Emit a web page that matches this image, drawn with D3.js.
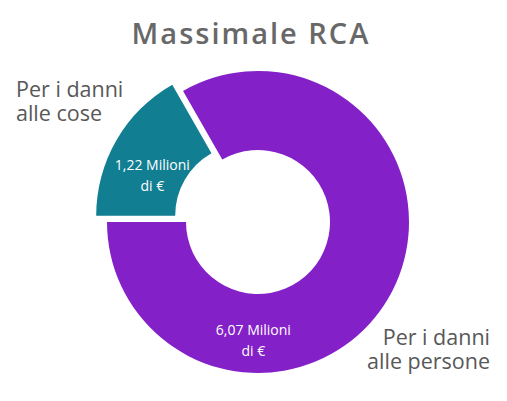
<!DOCTYPE html>
<meta charset="utf-8">
<style>
	body { margin: 0; background: #fff; }
	.title { font: 600 29px "Open Sans", sans-serif; fill: #686868; letter-spacing: 2px; text-anchor: middle; }
	.cat { font: 21.5px "Open Sans", sans-serif; fill: #585858; }
	.val { font: 14px "Open Sans", sans-serif; fill: #fff; text-anchor: middle; }
</style>
<script src="https://d3js.org/d3.v7.min.js"></script>
<svg class="chart"></svg>
<script>

	var categories = ["Per i danni alle cose", "Per i danni alle persone"];
	var catLines = [["Per i danni", "alle cose"], ["Per i danni", "alle persone"]];
	var values = [1.22, 6.07];
	var valueLabels = ["1,22 Milioni", "6,07 Milioni"];
	var colors = ["#117e92", "#8420c8"];

	var width = 507,
	height = 401,
	cx = 258,
	cy = 222,
	outer = 151,
	inner = 72,
	explode = 12.5;

	var svg = d3.select(".chart")
	.attr("width", width)
	.attr("height", height);

	svg.append("text")
	.attr("class", "title")
	.attr("x", 251)
	.attr("y", 44)
	.text("Massimale RCA");

	var pie = d3.pie()
	.sort(null)
	.startAngle(-Math.PI / 2)
	.endAngle(3 * Math.PI / 2);

	var arcs = pie(values);

	var arc = d3.arc().innerRadius(inner).outerRadius(outer);

	// teal slice is pulled out a bit
	function shift(d, i) {
		if (i != 0) return [0, 0];
		var a = (d.startAngle + d.endAngle) / 2;
		return [Math.sin(a) * explode, -Math.cos(a) * explode];
	}

	var g = svg.append("g")
	.attr("transform", "translate(" + cx + "," + cy + ")");

	var slice = g.selectAll("g.slice").data(arcs).enter().append("g")
		.attr("class", "slice")
		.attr("transform", function(d, i) { var s = shift(d, i); return "translate(" + s[0] + "," + s[1] + ")"; });

	slice.append("path")
	.attr("d", arc)
	.attr("fill", function(d, i) { return colors[i]; });

	// value labels: teal near its centroid, purple at the bottom of the ring
	var labelPos = [
		function(d) { var a = -1.15, r = 104; return [Math.sin(a) * r, -Math.cos(a) * r]; },
		function(d) { var a = Math.PI + 0.04, r = 116; return [Math.sin(a) * r, -Math.cos(a) * r]; }
	];

	slice.each(function(d, i) {
		var p = labelPos[i](d);
		var s = d3.select(this);
		s.append("text").attr("class", "val")
			.attr("x", p[0]).attr("y", p[1] - 3)
			.text(valueLabels[i]);
		s.append("text").attr("class", "val")
			.attr("x", p[0]).attr("y", p[1] + 18)
			.text("di €");
	});

	// category labels, one text per line
	var catPos = [
		{x: 16, y: 97, anchor: "start"},
		{x: 490, y: 345, anchor: "end"}
	];

	categories.forEach(function(c, i) {
		svg.selectAll(null).data(catLines[i]).enter().append("text")
			.attr("class", "cat")
			.attr("text-anchor", catPos[i].anchor)
			.attr("x", catPos[i].x)
			.attr("y", function(t, j) { return catPos[i].y + j * 24; })
			.text(function(t) { return t; });
	});

</script>
